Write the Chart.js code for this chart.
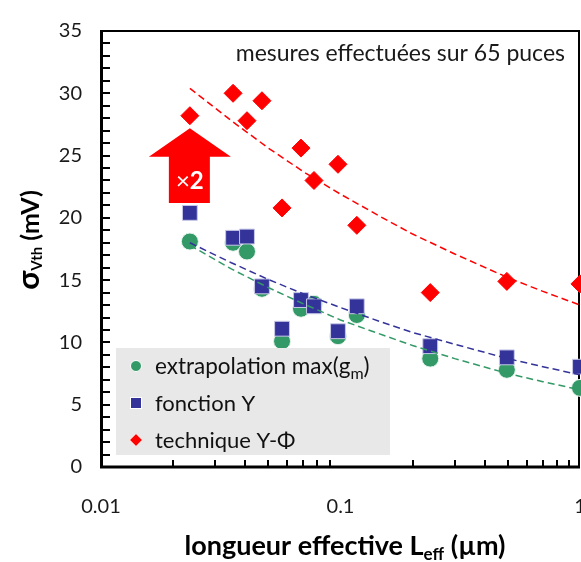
<!DOCTYPE html>
<html>
<head>
<meta charset="utf-8">
<script src="https://cdn.jsdelivr.net/npm/chart.js@4.4.1/dist/chart.umd.min.js"></script>
<style>
  html, body { margin: 0; padding: 0; background: #fff; }
  #wrap { width: 581px; height: 562px; }
</style>
</head>
<body>
<div id="wrap"><canvas id="sigmaVth" width="581" height="562"></canvas></div>
<script>
// effective length (µm) of the measured devices
const lengths = [0.0235, 0.0356, 0.0407, 0.047, 0.057, 0.0684, 0.0775, 0.0976, 0.117, 0.237, 0.495, 1.0];
// sigma Vth (mV) for each method
const sigmaGm   = [18.1, 18.0, 17.3, 14.3, 10.1, 12.7, 13.1, 10.5, 12.2, 8.7, 7.8, 6.35];
const sigmaY    = [20.4, 18.4, 18.5, 14.5, 11.1, 13.4, 12.9, 10.9, 12.9, 9.7, 8.8, 8.05];
const sigmaYPhi = [28.2, 30.0, 27.8, 29.4, 20.8, 25.6, 23.0, 24.3, 19.4, 14.0, 14.9, 14.7];

// dashed trend curves
const fitL      = [0.0235, 0.035, 0.05, 0.07, 0.1, 0.15, 0.2, 0.3, 0.5, 0.7, 1.0];
const fitGm     = [17.8, 15.9, 14.4, 13.1, 11.8, 10.6, 9.75, 8.7, 7.5, 6.85, 6.2];
const fitY      = [18.0, 16.4, 15.05, 13.9, 12.8, 11.6, 10.8, 9.85, 8.7, 8.05, 7.4];
const fitYPhi   = [30.4, 27.8, 25.6, 23.7, 21.9, 20.0, 18.7, 17.1, 15.2, 14.1, 13.0];

const xTicks = [0.01, 0.1, 1];
const xTickLabels = ['0.01', '0.1', '1'];
const xMinor = [0.02, 0.03, 0.04, 0.05, 0.06, 0.07, 0.08, 0.09, 0.2, 0.3, 0.4, 0.5, 0.6, 0.7, 0.8, 0.9];

const green = '#339966';
const blue = '#333399';
const red = '#ff0000';

function pts(xs, ys) {
  return xs.map((x, i) => ({ x: x, y: ys[i] }));
}

function drawRuns(ctx, runs, x, y, align) {
  let total = 0;
  runs.forEach(r => { ctx.font = r.font; r.w = ctx.measureText(r.text).width; total += r.w; });
  let cx = align === 'center' ? x - total / 2 : (align === 'right' ? x - total : x);
  ctx.textAlign = 'left';
  ctx.textBaseline = 'alphabetic';
  runs.forEach(r => { ctx.font = r.font; ctx.fillText(r.text, cx, y + (r.dy || 0)); cx += r.w; });
}

const decor = {
  id: 'decor',
  beforeDatasetsDraw(chart) {
    const ctx = chart.ctx;
    const a = chart.chartArea;
    const xs = chart.scales.x, ys = chart.scales.y;
    ctx.save();
    ctx.strokeStyle = '#000';
    // frame
    ctx.lineWidth = 2;
    ctx.beginPath();
    ctx.moveTo(a.left, a.top); ctx.lineTo(a.right - 1, a.top);
    ctx.lineTo(a.right - 1, a.bottom);
    ctx.stroke();
    ctx.lineWidth = 3;
    ctx.beginPath();
    ctx.moveTo(a.left + 0.5, a.top - 1); ctx.lineTo(a.left + 0.5, a.bottom);
    ctx.lineTo(a.right, a.bottom);
    ctx.stroke();
    // inward ticks
    ctx.lineWidth = 2;
    ctx.beginPath();
    for (let v = 1; v < 35; v++) {
      const py = Math.round(ys.getPixelForValue(v));
      ctx.moveTo(a.left, py); ctx.lineTo(a.left + 9, py);
    }
    xMinor.forEach(v => {
      const px = Math.round(xs.getPixelForValue(v));
      ctx.moveTo(px, a.bottom); ctx.lineTo(px, a.bottom - 7);
    });
    ctx.stroke();
    // x tick labels
    ctx.fillStyle = '#1a1a1a';
    ctx.font = '20px Lato';
    ctx.textAlign = 'center';
    ctx.textBaseline = 'middle';
    xTicks.forEach((v, i) => {
      ctx.fillText(xTickLabels[i], xs.getPixelForValue(v), a.bottom + 40);
    });
    ctx.restore();
  },
  afterDatasetsDraw(chart) {
    const ctx = chart.ctx;
    const a = chart.chartArea;
    const xs = chart.scales.x, ys = chart.scales.y;
    ctx.save();

    // red arrow "x2" at the shortest length
    const cx = xs.getPixelForValue(lengths[0]);
    const tip = ys.getPixelForValue(27.2);
    const neck = ys.getPixelForValue(24.9);
    const foot = ys.getPixelForValue(21.2);
    ctx.fillStyle = red;
    ctx.beginPath();
    ctx.moveTo(cx, tip);
    ctx.lineTo(cx + 41, neck);
    ctx.lineTo(cx + 20, neck);
    ctx.lineTo(cx + 20, foot);
    ctx.lineTo(cx - 21, foot);
    ctx.lineTo(cx - 21, neck);
    ctx.lineTo(cx - 41, neck);
    ctx.closePath();
    ctx.fill();
    ctx.fillStyle = '#fff';
    drawRuns(ctx, [
      { text: '\u00d7', font: '24px Lato' },
      { text: '2', font: 'bold 24px Lato' }
    ], cx, (neck + foot) / 2 + 9, 'center');

    // note
    ctx.fillStyle = '#1a1a1a';
    drawRuns(ctx, [{ text: 'mesures effectu\u00e9es sur 65 puces', font: '23px Lato' }], a.right - 15, a.top + 30, 'right');

    // legend
    const lx = a.left + 15, ly = a.bottom - 119;
    ctx.fillStyle = '#e8e8e8';
    ctx.fillRect(lx, ly, 274, 107);
    const mx = lx + 20, tx = lx + 39;
    const rows = [ly + 18, ly + 55, ly + 92];
    ctx.fillStyle = green;
    ctx.strokeStyle = '#fff';
    ctx.lineWidth = 1;
    ctx.beginPath(); ctx.arc(mx, rows[0], 5.5, 0, Math.PI * 2); ctx.fill(); ctx.stroke();
    ctx.fillStyle = blue;
    ctx.fillRect(mx - 5.5, rows[1] - 5.5, 11, 11);
    ctx.strokeRect(mx - 5.5, rows[1] - 5.5, 11, 11);
    ctx.fillStyle = red;
    ctx.beginPath();
    ctx.moveTo(mx, rows[2] - 6.5); ctx.lineTo(mx + 6.5, rows[2]);
    ctx.lineTo(mx, rows[2] + 6.5); ctx.lineTo(mx - 6.5, rows[2]);
    ctx.closePath(); ctx.fill(); ctx.stroke();
    ctx.fillStyle = '#111';
    drawRuns(ctx, [
      { text: 'extrapolation max(g', font: '22.5px Lato' },
      { text: 'm', font: '16px Lato', dy: 5 },
      { text: ')', font: '22.5px Lato' }
    ], tx, rows[0] + 8, 'left');
    drawRuns(ctx, [{ text: 'fonction Y', font: '22px Lato' }], tx, rows[1] + 8, 'left');
    drawRuns(ctx, [{ text: 'technique Y-\u03a6', font: '22px Lato' }], tx, rows[2] + 8, 'left');
    ctx.restore();
  },
  afterDraw(chart) {
    const ctx = chart.ctx;
    ctx.save();
    ctx.fillStyle = '#000';
    // x title
    drawRuns(ctx, [
      { text: 'longueur effective L', font: 'bold 27px Lato' },
      { text: 'eff', font: 'bold 17px Lato', dy: 5 },
      { text: ' (\u00b5m)', font: 'bold 27px Lato' }
    ], 345, 555, 'center');
    // y title
    ctx.translate(39, 240);
    ctx.rotate(-Math.PI / 2);
    drawRuns(ctx, [
      { text: '\u03c3', font: 'bold 31px Lato' },
      { text: 'Vth', font: 'bold 15px Lato', dy: 3 },
      { text: ' (mV)', font: 'bold 25px Lato' }
    ], 0, 0, 'center');
    ctx.restore();
  }
};

new Chart(document.getElementById('sigmaVth'), {
  type: 'scatter',
  data: {
    datasets: [
      {
        label: 'fit technique Y-Phi',
        type: 'line',
        data: pts(fitL, fitYPhi),
        borderColor: red,
        borderWidth: 1.5,
        borderDash: [7, 4],
        pointRadius: 0,
        fill: false,
        order: 0
      },
      {
        label: 'fit fonction Y',
        type: 'line',
        data: pts(fitL, fitY),
        borderColor: blue,
        borderWidth: 1.5,
        borderDash: [7, 4],
        pointRadius: 0,
        fill: false,
        order: 0
      },
      {
        label: 'fit extrapolation',
        type: 'line',
        data: pts(fitL, fitGm),
        borderColor: green,
        borderWidth: 1.5,
        borderDash: [7, 4],
        pointRadius: 0,
        fill: false,
        order: 0
      },
      {
        label: 'extrapolation max(gm)',
        data: pts(lengths, sigmaGm),
        pointStyle: 'circle',
        pointRadius: 8.5,
        backgroundColor: green,
        borderColor: '#e8f4ee',
        borderWidth: 1,
        order: 3
      },
      {
        label: 'fonction Y',
        data: pts(lengths, sigmaY),
        pointStyle: 'rect',
        pointRadius: 10.5,
        backgroundColor: blue,
        borderColor: '#c8c8e8',
        borderWidth: 1,
        order: 2
      },
      {
        label: 'technique Y-Phi',
        data: pts(lengths, sigmaYPhi),
        pointStyle: 'rectRot',
        pointRadius: 9,
        backgroundColor: red,
        borderColor: red,
        borderWidth: 1,
        order: 2
      }
    ]
  },
  options: {
    responsive: false,
    animation: false,
    clip: false,
    layout: { autoPadding: false, padding: { top: 15, right: 1, left: 0, bottom: 0 } },
    plugins: {
      legend: { display: false },
      tooltip: { enabled: false }
    },
    scales: {
      x: {
        type: 'logarithmic',
        min: 0.01,
        max: 1,
        grid: { display: false, drawTicks: false },
        border: { display: false },
        afterFit: scale => { scale.height = 95; scale.paddingLeft = 0; scale.paddingRight = 0; },
        ticks: { display: false }
      },
      y: {
        min: 0,
        max: 35,
        grid: { display: false, drawTicks: false },
        border: { display: false },
        afterFit: scale => { scale.width = 101; },
        ticks: {
          stepSize: 5,
          padding: 19,
          color: '#1a1a1a',
          font: { family: 'Lato', size: 20 }
        }
      }
    }
  },
  plugins: [decor]
});
</script>
</body>
</html>
